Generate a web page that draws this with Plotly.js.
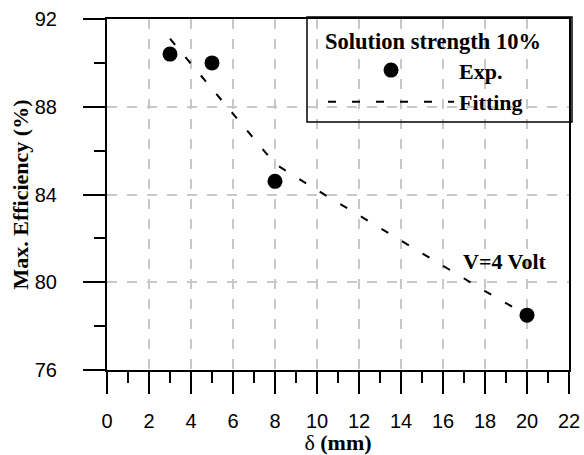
<!DOCTYPE html>
<html>
<head>
<meta charset="utf-8">
<script src="https://cdn.plot.ly/plotly-3.0.1.min.js"></script>
<style>html,body{margin:0;padding:0;background:#fff;}#chart{width:584px;height:455px;}</style>
</head>
<body>
<div id="chart"></div>
<script>
// Experimental data
var expX = [3, 5, 8, 20];
var expY = [90.4, 90.0, 84.6, 78.5];
// Fitting curve
var fitX = [3, 4, 5, 6, 7, 8, 10, 12, 14, 16, 18, 20];
var fitY = [91.1, 89.95, 88.8, 87.65, 86.5, 85.4, 84.2, 83.05, 81.9, 80.75, 79.6, 78.5];
var xTicks = [0, 2, 4, 6, 8, 10, 12, 14, 16, 18, 20, 22];
var yTicks = [76, 80, 84, 88, 92];
var yRange = [76, 92];

var serif = "Liberation Serif, Times New Roman, serif";
var sans = "Liberation Sans, Arial, sans-serif";

var traces = [
  {x: expX, y: expY, mode: 'markers', name: 'Exp.',
   marker: {color: '#000', size: 15}},
  {x: fitX, y: fitY, mode: 'lines', name: 'Fitting', yaxis: 'y2',
   line: {color: '#000', width: 2, dash: '8px,16px'}}
];

var axCommon = {
  showline: true, linecolor: '#000', linewidth: 2, mirror: true,
  ticks: 'outside', ticklen: 22, tickwidth: 2, tickcolor: '#000',
  showgrid: true, gridcolor: '#c8c8c8', gridwidth: 2, griddash: '10px,10px',
  zeroline: false, tickfont: {family: sans, size: 20, color: '#000'}
};

var layout = {
  width: 584, height: 455,
  margin: {l: 107, r: 15, t: 19, b: 85},
  paper_bgcolor: '#fff', plot_bgcolor: '#fff',
  xaxis: Object.assign({}, axCommon, {
    range: [0, 22], tickvals: xTicks, ticktext: xTicks.map(String),
    ticklabelstandoff: 10,
    minor: {dtick: 1, ticklen: 11, tickwidth: 2, tickcolor: '#000', ticks: 'outside', showgrid: false},
    title: {text: 'δ <b>(mm)</b>', font: {family: serif, size: 22, color: '#000'}, standoff: 17}
  }),
  yaxis: Object.assign({}, axCommon, {
    range: yRange, tickvals: yTicks, ticktext: yTicks.map(String),
    ticklabelstandoff: 22,
    minor: {dtick: 2, ticklen: 11, tickwidth: 2, tickcolor: '#000', ticks: 'outside', showgrid: false},
    title: {text: '<b>Max. Efficiency (%)</b>', font: {family: serif, size: 22, color: '#000'}, standoff: 0}
  }),
  yaxis2: {
    overlaying: 'y', side: 'left', range: yRange,
    tickmode: 'array', tickvals: [], ticks: 'outside', ticklen: 22, tickwidth: 2, tickcolor: '#000',
    minor: {tickmode: 'array', tickvals: yTicks, ticks: 'outside', ticklen: 22, tickwidth: 2, tickcolor: '#000', showgrid: false},
    showticklabels: false, showgrid: false, zeroline: false, showline: false
  },
  showlegend: true,
  legend: {
    x: 0.4676, xanchor: 'left', y: 0.997, yanchor: 'top',
    bgcolor: 'rgba(0,0,0,0)', borderwidth: 0,
    font: {family: serif, size: 22, color: '#000', weight: 'bold'},
    title: {text: '<b>Solution strength 10%</b>', side: 'top center', font: {family: serif, size: 22.5, color: '#000'}},
    itemwidth: 126, tracegroupgap: 0
  },
  shapes: [{
    type: 'rect', xref: 'paper', yref: 'paper', layer: 'above',
    x0: 0.4329, x1: 1.0065, y0: 0.7066, y1: 1.0057,
    line: {color: '#000', width: 1.5}, fillcolor: 'rgba(0,0,0,0)'
  }],
  annotations: [{
    x: 18.95, y: 80.94, xref: 'x', yref: 'y', text: '<b>V=4 Volt</b>', showarrow: false,
    font: {family: serif, size: 22, color: '#000'}
  }]
};

Plotly.newPlot('chart', traces, layout, {displayModeBar: false, staticPlot: true});
</script>
</body>
</html>
